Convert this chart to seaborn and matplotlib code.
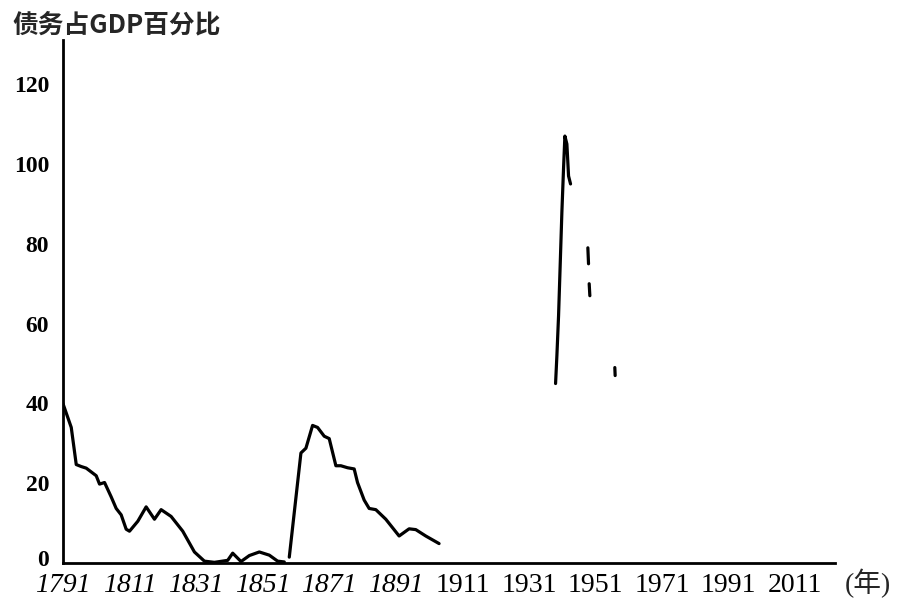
import pandas as pd
import numpy as np
import matplotlib
matplotlib.use('Agg')
import matplotlib.pyplot as plt
import matplotlib.transforms as mtransforms
import seaborn as sns

# 数据：联邦债务占GDP百分比
# 第一段 1791-1857
years_1 = [1791, 1793.5, 1795, 1796.5, 1798, 1801, 1802, 1803.5, 1805.5, 1807,
           1808.5, 1810, 1811, 1813.5, 1816, 1818.5, 1820.5, 1823.5, 1827, 1830.5,
           1833.5, 1836.5, 1840.5, 1842, 1844.5, 1847, 1850, 1853, 1855.5, 1857.5]
debt_1 = [40, 34, 24.7, 24.2, 23.8, 21.9, 19.8, 20.2, 16.6, 13.7,
          12.1, 8.5, 8, 10.5, 14.1, 11, 13.4, 11.7, 8, 2.8,
          0.5, 0.2, 0.7, 2.5, 0.4, 1.9, 2.8, 2, 0.5, 0.3]
# 第二段 1859-1904
years_2 = [1859, 1862.5, 1864, 1866, 1867.5, 1869.5, 1871, 1873, 1874.5, 1876.5,
           1878.5, 1879.5, 1881.5, 1883, 1885, 1888, 1892, 1895, 1897, 1900, 1904]
debt_2 = [1.5, 27.6, 28.8, 34.5, 34, 31.8, 31.2, 24.4, 24.4, 23.9,
          23.6, 20.2, 15.8, 13.7, 13.4, 11, 6.8, 8.6, 8.4, 6.8, 4.9]
# 二战前后残存的片段
years_3 = [1939, 1939.4, 1939.9, 1940.4, 1940.9, 1941.4, 1941.8, 1942.4, 1942.9, 1943.5]
debt_3 = [45, 52, 62, 75, 88, 99, 107, 105, 97, 95]
years_4 = [1948.7, 1948.9]
debt_4 = [79, 75]
years_5 = [1949.1, 1949.3]
debt_5 = [70, 67]
years_6 = [1956.8, 1956.9]
debt_6 = [49, 47]

x_ticks = list(range(1791, 2012, 20))
y_ticks = [0, 20, 40, 60, 80, 100, 120]

pieces = [(years_1, debt_1), (years_2, debt_2), (years_3, debt_3),
          (years_4, debt_4), (years_5, debt_5), (years_6, debt_6)]
rows = []
for i, (yy, dd) in enumerate(pieces):
    for a, b in zip(yy, dd):
        rows.append({'year': a, 'debt': b, 'piece': i})
df = pd.DataFrame(rows)

sns.set_style('white')
plt.rcParams['font.family'] = ['Liberation Serif', 'Noto Sans CJK SC', 'DejaVu Sans']

fig = plt.figure(figsize=(8.99, 6.01), dpi=100)
ax = fig.add_axes([0.070, 0.063, 0.859, 0.870])

sns.lineplot(data=df, x='year', y='debt', units='piece', estimator=None,
             color='black', linewidth=2.3, ax=ax, legend=False)

ax.set_xlim(1791, 2023)
ax.set_ylim(0, 131)
ax.set_xticks(x_ticks)
ax.set_yticks(y_ticks)
ax.set_xlabel('')
ax.set_ylabel('')

for side in ['top', 'right']:
    ax.spines[side].set_visible(False)
for side in ['left', 'bottom']:
    ax.spines[side].set_linewidth(2.0)
    ax.spines[side].set_color('black')

ax.tick_params(axis='y', direction='in', length=7, width=2, pad=10,
               labelsize=17, colors='black')
ax.tick_params(axis='x', direction='in', length=5, width=1.5, pad=7,
               labelsize=20, colors='black')
for lab in ax.get_yticklabels():
    lab.set_fontweight('bold')
# "0" 稍微上移，避免与 1791 重叠
ylabs = ax.get_yticklabels()
ylabs[0].set_transform(ylabs[0].get_transform() +
                       mtransforms.ScaledTranslation(0, 4 / 72, fig.dpi_scale_trans))
for i, lab in enumerate(ax.get_xticklabels()):
    if i < 6:
        lab.set_fontstyle('italic')

fig.text(12 / 899, 1 - 25 / 601, '债务占GDP百分比', fontsize=18.5, fontweight='bold',
         family=['Noto Sans CJK SC', 'DejaVu Sans'], ha='left', va='center')
fig.text(845 / 899, 1 - 583 / 601, '(年)', fontsize=20,
         family=['Liberation Serif', 'Noto Sans CJK SC'], ha='left', va='center')

fig.savefig('out.png', dpi=100)
